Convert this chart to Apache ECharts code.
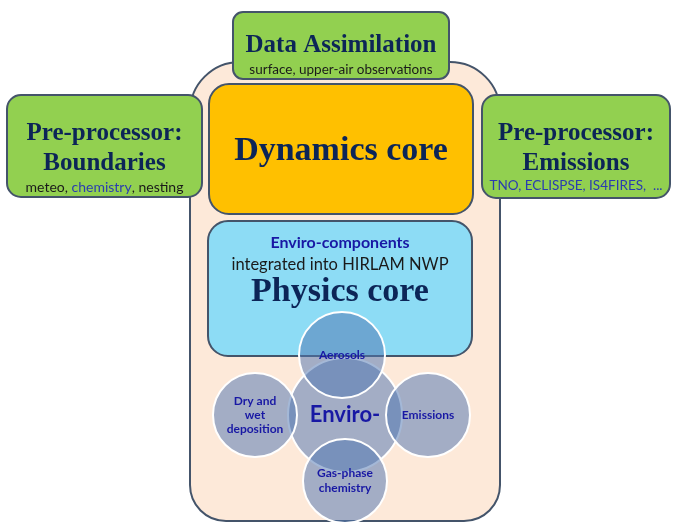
<!DOCTYPE html>
<html>
<head>
<meta charset="utf-8">
<script src="https://cdn.jsdelivr.net/npm/echarts@6/dist/echarts.min.js"></script>
<style>html,body{margin:0;padding:0;background:#fff;}#c{width:673px;height:522px;}</style>
</head>
<body>
<div id="c"></div>
<script>
// ---- content ----
const boxTitles = ['Data Assimilation', 'Pre-processor:\nBoundaries', 'Pre-processor:\nEmissions', 'Dynamics core', 'Physics core'];
const boxSubtitles = ['surface, upper-air observations', 'meteo, {b|chemistry}, nesting', '{b|TNO, ECLISPSE, IS4FIRES,  ...}', '', ''];
const physicsLines = ['Enviro-components', 'integrated into HIRLAM NWP'];
const circleLabels = ['Enviro-', 'Aerosols', 'Dry and\nwet\ndeposition', 'Emissions', 'Gas-phase\nchemistry'];

// ---- layout / style ----
const NAVY = '#0c2557', EDGE = '#44546a', BLUE_TXT = '#1818a4';
const SERIF = '"Liberation Serif", "Times New Roman", serif';
const SANS = 'Lato, "Noto Sans", sans-serif';

const boxes = [
  {x: 233, y: 12, w: 216, h: 67, r: 10, fill: '#92d050', tY: 46, tS: 25, sY: 70, sS: 13.5},
  {x: 7, y: 95, w: 195, h: 102, r: 14, fill: '#92d050', tY: 149, tS: 25, lh: 30, sY: 187, sS: 14},
  {x: 482, y: 95, w: 188, h: 103, r: 14, fill: '#92d050', tY: 149, tS: 25, lh: 30, sY: 186, sS: 13.5},
  {x: 209, y: 84, w: 264, h: 130, r: 20, fill: '#ffc000', tY: 151, tS: 34},
  {x: 208, y: 221, w: 264, h: 135, r: 20, fill: '#8ddcf5', tY: 292, tS: 34}
];
const circles = [
  {cx: 345, cy: 415, r: 57, s: 22, lh: 24},
  {cx: 342, cy: 355, r: 43, s: 12, lh: 14},
  {cx: 255, cy: 415, r: 42, s: 12, lh: 14},
  {cx: 428, cy: 415, r: 42, s: 12, lh: 14},
  {cx: 345, cy: 481, r: 42, s: 12, lh: 15}
];

const els = [];
els.push({type: 'rect', shape: {x: 190, y: 62, width: 310, height: 459, r: [50, 50, 36, 36]},
  style: {fill: '#fde9d9', stroke: EDGE, lineWidth: 2}, z: 1});

boxes.forEach((b, i) => {
  els.push({type: 'rect', shape: {x: b.x, y: b.y, width: b.w, height: b.h, r: b.r},
    style: {fill: b.fill, stroke: EDGE, lineWidth: 2}, z: 2});
  els.push({type: 'text', z: 3, style: {text: boxTitles[i], x: b.x + b.w / 2, y: b.tY,
    align: 'center', verticalAlign: 'middle', fontFamily: SERIF, fontWeight: 'bold', fontSize: b.tS,
    fill: NAVY, lineHeight: b.lh || b.tS}});
  if (boxSubtitles[i]) {
    els.push({type: 'text', z: 3, style: {text: boxSubtitles[i], x: b.x + b.w / 2, y: b.sY,
      align: 'center', verticalAlign: 'middle', fontFamily: SANS, fontSize: b.sS, fill: '#1a1a1a',
      rich: {b: {fill: '#2a3cb0', fontFamily: SANS, fontSize: b.sS}}}});
  }
});

els.push({type: 'text', z: 3, style: {text: physicsLines[0], x: 340, y: 243, align: 'center', verticalAlign: 'middle',
  fontFamily: SANS, fontWeight: 'bold', fontSize: 16, fill: BLUE_TXT}});
els.push({type: 'text', z: 3, style: {text: physicsLines[1], x: 340, y: 265, align: 'center', verticalAlign: 'middle',
  fontFamily: SANS, fontSize: 16.5, fill: '#1a1a1a'}});

circles.forEach((c) => {
  els.push({type: 'circle', z: 4, shape: {cx: c.cx, cy: c.cy, r: c.r},
    style: {fill: 'rgba(80,118,178,0.52)', stroke: '#ffffff', lineWidth: 2}});
});
circles.forEach((c, i) => {
  els.push({type: 'text', z: 5, style: {text: circleLabels[i], x: c.cx, y: c.cy, align: 'center', verticalAlign: 'middle',
    fontFamily: SANS, fontWeight: 'bold', fontSize: c.s, fill: BLUE_TXT, lineHeight: c.lh}});
});

const chart = echarts.init(document.getElementById('c'));
chart.setOption({animation: false, graphic: {elements: els}});
</script>
</body>
</html>
